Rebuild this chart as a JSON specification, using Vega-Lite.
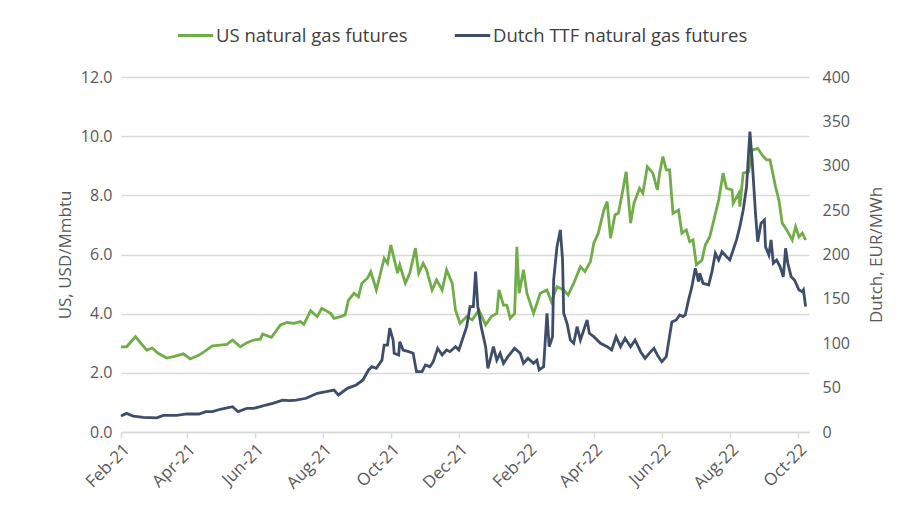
{
  "$schema": "https://vega.github.io/schema/vega-lite/v6.json",
  "width": 688,
  "height": 355,
  "autosize": {"type": "none"},
  "padding": {"left": 121, "top": 77, "right": 92, "bottom": 86},
  "background": "white",
  "config": {
    "view": {"stroke": null},
    "font": "Open Sans",
    "axis": {"labelFont": "Open Sans", "titleFont": "Open Sans", "labelFontSize": 16, "titleFontSize": 17, "labelColor": "#595959", "titleColor": "#595959", "titleFontWeight": "normal"},
    "legend": {"labelFont": "Open Sans", "labelFontSize": 18.5, "labelColor": "#404040", "labelLimit": 400}
  },
  "datasets": {
    "us": [
      {"date": "2021-02-01", "v": 2.88}, {"date": "2021-02-06", "v": 2.88}, {"date": "2021-02-14", "v": 3.22}, {"date": "2021-02-24", "v": 2.77},
      {"date": "2021-03-01", "v": 2.84}, {"date": "2021-03-06", "v": 2.67}, {"date": "2021-03-14", "v": 2.50}, {"date": "2021-03-20", "v": 2.55},
      {"date": "2021-03-29", "v": 2.64}, {"date": "2021-04-04", "v": 2.47}, {"date": "2021-04-12", "v": 2.60}, {"date": "2021-04-18", "v": 2.75},
      {"date": "2021-04-24", "v": 2.91}, {"date": "2021-05-01", "v": 2.94}, {"date": "2021-05-07", "v": 2.96}, {"date": "2021-05-12", "v": 3.11},
      {"date": "2021-05-19", "v": 2.88}, {"date": "2021-05-25", "v": 3.02}, {"date": "2021-05-31", "v": 3.11}, {"date": "2021-06-06", "v": 3.14},
      {"date": "2021-06-08", "v": 3.31}, {"date": "2021-06-16", "v": 3.20}, {"date": "2021-06-24", "v": 3.62}, {"date": "2021-06-30", "v": 3.70},
      {"date": "2021-07-06", "v": 3.67}, {"date": "2021-07-12", "v": 3.73}, {"date": "2021-07-15", "v": 3.64}, {"date": "2021-07-21", "v": 4.10},
      {"date": "2021-07-27", "v": 3.90}, {"date": "2021-07-31", "v": 4.18}, {"date": "2021-08-08", "v": 4.01}, {"date": "2021-08-11", "v": 3.84},
      {"date": "2021-08-17", "v": 3.90}, {"date": "2021-08-21", "v": 3.96}, {"date": "2021-08-24", "v": 4.46}, {"date": "2021-08-29", "v": 4.69},
      {"date": "2021-09-02", "v": 4.57}, {"date": "2021-09-05", "v": 5.03}, {"date": "2021-09-10", "v": 5.20}, {"date": "2021-09-13", "v": 5.42},
      {"date": "2021-09-18", "v": 4.80}, {"date": "2021-09-25", "v": 5.87}, {"date": "2021-09-28", "v": 5.70}, {"date": "2021-10-01", "v": 6.32},
      {"date": "2021-10-07", "v": 5.37}, {"date": "2021-10-09", "v": 5.65}, {"date": "2021-10-14", "v": 5.03}, {"date": "2021-10-18", "v": 5.37},
      {"date": "2021-10-23", "v": 6.21}, {"date": "2021-10-26", "v": 5.37}, {"date": "2021-10-30", "v": 5.70}, {"date": "2021-11-02", "v": 5.48},
      {"date": "2021-11-07", "v": 4.80}, {"date": "2021-11-11", "v": 5.14}, {"date": "2021-11-16", "v": 4.80}, {"date": "2021-11-20", "v": 5.48},
      {"date": "2021-11-25", "v": 5.03}, {"date": "2021-11-28", "v": 4.12}, {"date": "2021-12-02", "v": 3.67}, {"date": "2021-12-08", "v": 3.90},
      {"date": "2021-12-13", "v": 3.79}, {"date": "2021-12-19", "v": 4.12}, {"date": "2021-12-25", "v": 3.62}, {"date": "2021-12-30", "v": 3.90},
      {"date": "2022-01-04", "v": 4.01}, {"date": "2022-01-06", "v": 4.80}, {"date": "2022-01-10", "v": 4.29}, {"date": "2022-01-13", "v": 4.29},
      {"date": "2022-01-16", "v": 3.84}, {"date": "2022-01-20", "v": 4.01}, {"date": "2022-01-22", "v": 6.26}, {"date": "2022-01-24", "v": 4.69},
      {"date": "2022-01-28", "v": 5.48}, {"date": "2022-01-31", "v": 4.69}, {"date": "2022-02-06", "v": 4.01}, {"date": "2022-02-12", "v": 4.69},
      {"date": "2022-02-18", "v": 4.80}, {"date": "2022-02-22", "v": 4.40}, {"date": "2022-02-27", "v": 4.91}, {"date": "2022-03-05", "v": 4.80},
      {"date": "2022-03-09", "v": 4.63}, {"date": "2022-03-14", "v": 5.03}, {"date": "2022-03-20", "v": 5.59}, {"date": "2022-03-24", "v": 5.42},
      {"date": "2022-03-29", "v": 5.76}, {"date": "2022-04-01", "v": 6.38}, {"date": "2022-04-05", "v": 6.72}, {"date": "2022-04-10", "v": 7.50},
      {"date": "2022-04-13", "v": 7.79}, {"date": "2022-04-16", "v": 6.55}, {"date": "2022-04-20", "v": 7.34}, {"date": "2022-04-23", "v": 7.39},
      {"date": "2022-04-26", "v": 7.96}, {"date": "2022-04-30", "v": 8.80}, {"date": "2022-05-04", "v": 7.06}, {"date": "2022-05-07", "v": 7.73},
      {"date": "2022-05-12", "v": 8.24}, {"date": "2022-05-15", "v": 8.07}, {"date": "2022-05-19", "v": 8.97}, {"date": "2022-05-24", "v": 8.75},
      {"date": "2022-05-28", "v": 8.18}, {"date": "2022-05-30", "v": 8.75}, {"date": "2022-06-02", "v": 9.31}, {"date": "2022-06-05", "v": 8.86},
      {"date": "2022-06-08", "v": 8.86}, {"date": "2022-06-11", "v": 7.39}, {"date": "2022-06-16", "v": 7.50}, {"date": "2022-06-19", "v": 6.72},
      {"date": "2022-06-23", "v": 6.83}, {"date": "2022-06-26", "v": 6.43}, {"date": "2022-06-29", "v": 6.49}, {"date": "2022-07-02", "v": 5.65},
      {"date": "2022-07-07", "v": 5.81}, {"date": "2022-07-10", "v": 6.32}, {"date": "2022-07-14", "v": 6.60}, {"date": "2022-07-17", "v": 7.06},
      {"date": "2022-07-22", "v": 7.84}, {"date": "2022-07-26", "v": 8.75}, {"date": "2022-07-29", "v": 8.24}, {"date": "2022-08-03", "v": 8.18},
      {"date": "2022-08-04", "v": 7.73}, {"date": "2022-08-09", "v": 8.07}, {"date": "2022-08-10", "v": 7.62}, {"date": "2022-08-13", "v": 8.75},
      {"date": "2022-08-18", "v": 8.80}, {"date": "2022-08-21", "v": 9.53}, {"date": "2022-08-26", "v": 9.59}, {"date": "2022-08-30", "v": 9.36},
      {"date": "2022-09-03", "v": 9.20}, {"date": "2022-09-06", "v": 9.20}, {"date": "2022-09-11", "v": 8.29}, {"date": "2022-09-14", "v": 7.84},
      {"date": "2022-09-17", "v": 7.06}, {"date": "2022-09-21", "v": 6.83}, {"date": "2022-09-26", "v": 6.49}, {"date": "2022-09-29", "v": 6.94},
      {"date": "2022-10-02", "v": 6.60}, {"date": "2022-10-05", "v": 6.72}, {"date": "2022-10-08", "v": 6.49}
    ],
    "ttf": [
      {"date": "2021-02-01", "v": 18}, {"date": "2021-02-06", "v": 21}, {"date": "2021-02-12", "v": 18}, {"date": "2021-02-21", "v": 16.5},
      {"date": "2021-03-05", "v": 16}, {"date": "2021-03-11", "v": 18.8}, {"date": "2021-03-23", "v": 18.8}, {"date": "2021-04-01", "v": 20.3},
      {"date": "2021-04-12", "v": 20.3}, {"date": "2021-04-18", "v": 22.9}, {"date": "2021-04-24", "v": 23}, {"date": "2021-05-01", "v": 25.6},
      {"date": "2021-05-12", "v": 28.5}, {"date": "2021-05-17", "v": 22.9}, {"date": "2021-05-25", "v": 26.7}, {"date": "2021-05-31", "v": 26.7},
      {"date": "2021-06-06", "v": 28.5}, {"date": "2021-06-11", "v": 30.4}, {"date": "2021-06-17", "v": 32.3}, {"date": "2021-06-26", "v": 36},
      {"date": "2021-07-02", "v": 35.3}, {"date": "2021-07-08", "v": 36}, {"date": "2021-07-17", "v": 38}, {"date": "2021-07-27", "v": 43.6},
      {"date": "2021-08-04", "v": 45.4}, {"date": "2021-08-11", "v": 47.3}, {"date": "2021-08-15", "v": 41.7}, {"date": "2021-08-23", "v": 49.2},
      {"date": "2021-08-31", "v": 53}, {"date": "2021-09-06", "v": 58.6}, {"date": "2021-09-11", "v": 69.9}, {"date": "2021-09-14", "v": 73.6},
      {"date": "2021-09-18", "v": 71.8}, {"date": "2021-09-23", "v": 81}, {"date": "2021-09-25", "v": 98}, {"date": "2021-09-28", "v": 98},
      {"date": "2021-09-30", "v": 116.9}, {"date": "2021-10-03", "v": 103.7}, {"date": "2021-10-04", "v": 88.7}, {"date": "2021-10-08", "v": 86.8},
      {"date": "2021-10-09", "v": 101.8}, {"date": "2021-10-12", "v": 92.4}, {"date": "2021-10-17", "v": 90.5}, {"date": "2021-10-21", "v": 88.7},
      {"date": "2021-10-24", "v": 68}, {"date": "2021-10-29", "v": 68}, {"date": "2021-11-01", "v": 75.5}, {"date": "2021-11-05", "v": 73.6},
      {"date": "2021-11-08", "v": 79.2}, {"date": "2021-11-12", "v": 94.3}, {"date": "2021-11-16", "v": 86.8}, {"date": "2021-11-20", "v": 92.4},
      {"date": "2021-11-23", "v": 90.5}, {"date": "2021-11-28", "v": 96.1}, {"date": "2021-12-01", "v": 92.4}, {"date": "2021-12-05", "v": 107.4},
      {"date": "2021-12-08", "v": 118.7}, {"date": "2021-12-11", "v": 141.2}, {"date": "2021-12-14", "v": 141.2}, {"date": "2021-12-16", "v": 180.7},
      {"date": "2021-12-18", "v": 141.2}, {"date": "2021-12-21", "v": 118.7}, {"date": "2021-12-25", "v": 96.1}, {"date": "2021-12-27", "v": 71.8},
      {"date": "2021-12-29", "v": 81}, {"date": "2022-01-01", "v": 96.1}, {"date": "2022-01-04", "v": 81}, {"date": "2022-01-07", "v": 88.7},
      {"date": "2022-01-10", "v": 77.4}, {"date": "2022-01-14", "v": 84.9}, {"date": "2022-01-20", "v": 94.3}, {"date": "2022-01-25", "v": 88.7},
      {"date": "2022-01-28", "v": 77.4}, {"date": "2022-02-01", "v": 83}, {"date": "2022-02-06", "v": 77.4}, {"date": "2022-02-09", "v": 81},
      {"date": "2022-02-11", "v": 69.9}, {"date": "2022-02-15", "v": 73.6}, {"date": "2022-02-18", "v": 133.8}, {"date": "2022-02-20", "v": 96.1},
      {"date": "2022-02-23", "v": 107.4}, {"date": "2022-02-24", "v": 171.3}, {"date": "2022-02-27", "v": 208.8}, {"date": "2022-03-02", "v": 227.7},
      {"date": "2022-03-04", "v": 193.8}, {"date": "2022-03-05", "v": 133.8}, {"date": "2022-03-08", "v": 122.5}, {"date": "2022-03-11", "v": 103.7},
      {"date": "2022-03-14", "v": 100}, {"date": "2022-03-17", "v": 118.7}, {"date": "2022-03-20", "v": 103.7}, {"date": "2022-03-26", "v": 126.2},
      {"date": "2022-03-28", "v": 111.2}, {"date": "2022-04-01", "v": 107.4}, {"date": "2022-04-07", "v": 100}, {"date": "2022-04-13", "v": 96.1},
      {"date": "2022-04-17", "v": 92.4}, {"date": "2022-04-21", "v": 107.4}, {"date": "2022-04-25", "v": 96.1}, {"date": "2022-04-29", "v": 105.6},
      {"date": "2022-05-04", "v": 96.1}, {"date": "2022-05-08", "v": 103.7}, {"date": "2022-05-13", "v": 90.5}, {"date": "2022-05-17", "v": 83},
      {"date": "2022-05-22", "v": 90.5}, {"date": "2022-05-25", "v": 94.3}, {"date": "2022-05-28", "v": 86.8}, {"date": "2022-06-01", "v": 79.2},
      {"date": "2022-06-05", "v": 84.9}, {"date": "2022-06-10", "v": 124}, {"date": "2022-06-14", "v": 126.2}, {"date": "2022-06-17", "v": 131.9},
      {"date": "2022-06-20", "v": 130}, {"date": "2022-06-22", "v": 131.9}, {"date": "2022-06-25", "v": 148.8}, {"date": "2022-06-28", "v": 163.8},
      {"date": "2022-07-01", "v": 184.5}, {"date": "2022-07-04", "v": 169.4}, {"date": "2022-07-05", "v": 178.9}, {"date": "2022-07-08", "v": 167.6},
      {"date": "2022-07-13", "v": 165.7}, {"date": "2022-07-16", "v": 180.7}, {"date": "2022-07-19", "v": 201.4}, {"date": "2022-07-22", "v": 193.8},
      {"date": "2022-07-25", "v": 203.2}, {"date": "2022-07-29", "v": 197.6}, {"date": "2022-08-01", "v": 193.8}, {"date": "2022-08-04", "v": 205.1},
      {"date": "2022-08-07", "v": 216.4}, {"date": "2022-08-10", "v": 231.4}, {"date": "2022-08-13", "v": 250.2}, {"date": "2022-08-16", "v": 276.4},
      {"date": "2022-08-19", "v": 338.4}, {"date": "2022-08-21", "v": 306.5}, {"date": "2022-08-24", "v": 246.5}, {"date": "2022-08-26", "v": 214.5},
      {"date": "2022-08-29", "v": 235.2}, {"date": "2022-09-01", "v": 238.9}, {"date": "2022-09-02", "v": 208.8}, {"date": "2022-09-05", "v": 199.5},
      {"date": "2022-09-07", "v": 216.4}, {"date": "2022-09-09", "v": 190.1}, {"date": "2022-09-12", "v": 193.8}, {"date": "2022-09-15", "v": 186.3},
      {"date": "2022-09-18", "v": 175}, {"date": "2022-09-20", "v": 207}, {"date": "2022-09-22", "v": 190.1}, {"date": "2022-09-25", "v": 175},
      {"date": "2022-09-28", "v": 171.3}, {"date": "2022-10-02", "v": 160}, {"date": "2022-10-05", "v": 158.1}, {"date": "2022-10-06", "v": 160},
      {"date": "2022-10-08", "v": 141.2}
    ]
  },
  "encoding": {
    "x": {
      "field": "date",
      "type": "temporal",
      "scale": {"type": "utc", "domain": [{"year": 2021, "month": 2, "date": 1, "utc": true}, {"year": 2022, "month": 10, "date": 11, "utc": true}]},
      "axis": {
        "title": null,
        "values": [
          {"year": 2021, "month": 2, "date": 1, "utc": true}, {"year": 2021, "month": 4, "date": 1, "utc": true},
          {"year": 2021, "month": 6, "date": 1, "utc": true}, {"year": 2021, "month": 8, "date": 1, "utc": true},
          {"year": 2021, "month": 10, "date": 1, "utc": true}, {"year": 2021, "month": 12, "date": 1, "utc": true},
          {"year": 2022, "month": 2, "date": 1, "utc": true}, {"year": 2022, "month": 4, "date": 1, "utc": true},
          {"year": 2022, "month": 6, "date": 1, "utc": true}, {"year": 2022, "month": 8, "date": 1, "utc": true},
          {"year": 2022, "month": 10, "date": 1, "utc": true}
        ],
        "format": "%b-%y",
        "labelAngle": -45,
        "labelFontSize": 17,
        "labelPadding": 3,
        "grid": false,
        "domainColor": "#d9d9d9",
        "domainWidth": 1.5,
        "tickColor": "#d9d9d9",
        "tickWidth": 1.5,
        "tickSize": 6,
        "labelFlush": false,
        "labelOverlap": false
      }
    }
  },
  "layer": [
    {
      "data": {"name": "us"},
      "mark": {"type": "line", "strokeWidth": 2.8},
      "encoding": {
        "y": {
          "field": "v",
          "type": "quantitative",
          "scale": {"domain": [0, 12], "nice": false},
          "axis": {
            "title": "US, USD/Mmbtu",
            "values": [0, 2, 4, 6, 8, 10, 12],
            "format": ".1f",
            "grid": true,
            "gridColor": "#d9d9d9",
            "gridWidth": 1.5,
            "domain": false,
            "ticks": false,
            "labelPadding": 9,
            "titlePadding": 6
          }
        },
        "color": {
          "datum": "US natural gas futures",
          "type": "nominal",
          "scale": {"domain": ["US natural gas futures", "Dutch TTF natural gas futures"], "range": ["#70AD47", "#3D4D6A"]},
          "legend": {
            "title": null,
            "orient": "none",
            "legendX": 55,
            "legendY": -61,
            "direction": "horizontal",
            "symbolType": "stroke",
            "symbolSize": 1250,
            "symbolStrokeWidth": 3,
            "labelOffset": 1,
            "columnPadding": 40
          }
        }
      }
    },
    {
      "data": {"name": "ttf"},
      "mark": {"type": "line", "strokeWidth": 2.8},
      "encoding": {
        "y": {
          "field": "v",
          "type": "quantitative",
          "scale": {"domain": [0, 400], "nice": false},
          "axis": {
            "orient": "right",
            "title": "Dutch, EUR/MWh",
            "titleAngle": -90,
            "titleBaseline": "top",
            "values": [0, 50, 100, 150, 200, 250, 300, 350, 400],
            "grid": false,
            "domain": false,
            "ticks": false,
            "labelPadding": 13,
            "titlePadding": 19
          }
        },
        "color": {"datum": "Dutch TTF natural gas futures", "type": "nominal"}
      }
    }
  ],
  "resolve": {"scale": {"y": "independent"}}
}
